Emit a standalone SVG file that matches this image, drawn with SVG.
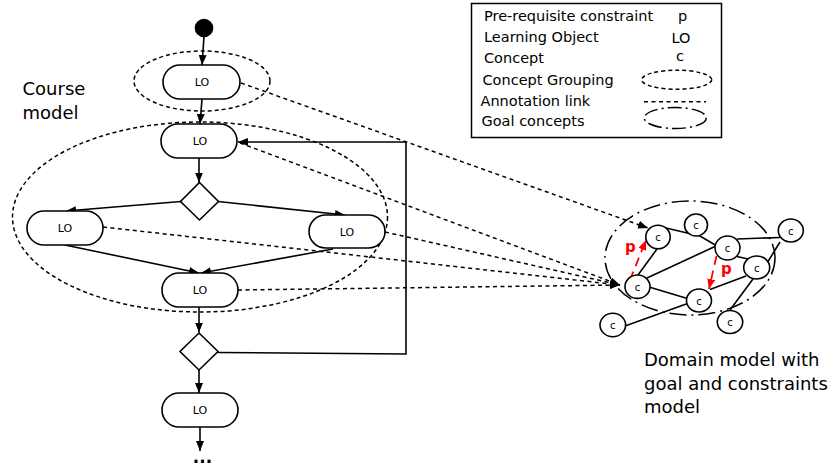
<svg xmlns="http://www.w3.org/2000/svg" width="834" height="467" viewBox="0 0 834 467">
<style>
text{font-family:"DejaVu Sans","Liberation Sans",sans-serif;fill:#000}
.lo{fill:#fff;stroke:#000;stroke-width:1.6}
.lot{font-size:11px;text-anchor:middle}
.dia{fill:#fff;stroke:#000;stroke-width:1.6}
.flow{fill:none;stroke:#000;stroke-width:1.6;marker-end:url(#ah)}
.grp{fill:none;stroke:#000;stroke-width:1.5;stroke-dasharray:4,3}
.ann{fill:none;stroke:#000;stroke-width:1.5;stroke-dasharray:4,3.5}
.goal{fill:none;stroke:#000;stroke-width:1.5;stroke-dasharray:17,5,2,5}
.cn{fill:#fff;stroke:#000;stroke-width:1.6}
.ct{font-size:10px;text-anchor:middle}
.edge{fill:none;stroke:#000;stroke-width:1.6}
.pre{fill:none;stroke:#f00;stroke-width:1.8;stroke-dasharray:9,6;marker-end:url(#rah)}
.pt{font-size:15px;font-weight:bold;fill:#f00}
.leg{font-size:14.5px}
.big{font-size:18px}
</style>
<defs>
<marker id="ah" viewBox="0 0 10 8" refX="10" refY="4" markerWidth="10" markerHeight="8" markerUnits="userSpaceOnUse" orient="auto"><path d="M0,0 L10,4 L0,8 z" fill="#000"/></marker>
<marker id="rah" viewBox="0 0 10 8" refX="10" refY="4" markerWidth="10" markerHeight="8" markerUnits="userSpaceOnUse" orient="auto"><path d="M0,0 L10,4 L0,8 z" fill="#f00"/></marker>
</defs>

<!-- groupings -->
<g id="groupings">
<ellipse class="grp" cx="202" cy="81" rx="68" ry="30"/>
<ellipse class="grp" cx="200" cy="217" rx="187.5" ry="95"/>
<ellipse class="goal" cx="690" cy="258" rx="85" ry="57"/>
</g>

<!-- connectors -->
<g id="connectors">
<path class="flow" d="M204,37 L202,65"/>
<path class="flow" d="M202,99 L200,124"/>
<path class="flow" d="M199,158 L199,182.5"/>
<path class="flow" d="M181,201.5 L66,211"/>
<path class="flow" d="M218,201.5 L345,215"/>
<path class="flow" d="M65,245 L199,273"/>
<path class="flow" d="M333,249 L201,273"/>
<path class="flow" d="M199,307 L199,332.5"/>
<path class="flow" d="M199,370 L199,393"/>
<path class="flow" d="M200,427 L200,451"/>
<path class="flow" d="M218,352.5 L406,354 L406,142 L238,142"/>
<path class="ann" d="M241,83 L648,228" marker-end="url(#ah)"/>
<path class="ann" d="M240,143 L620,285" marker-end="url(#ah)"/>
<path class="ann" d="M103,227 L620,285" marker-end="url(#ah)"/>
<path class="ann" d="M385,232 L620,285" marker-end="url(#ah)"/>
<path class="ann" d="M238,290 L620,285" marker-end="url(#ah)"/>
<!-- concept edges -->
<path class="edge" d="M666,228 L700,236 L717,246"/>
<path class="edge" d="M657,249 L638,275"/>
<path class="edge" d="M647,278 L716,246"/>
<path class="edge" d="M649,287 L689,299"/>
<path class="edge" d="M625,326 L689,303"/>
<path class="edge" d="M737,239 L780,237.5"/>
<path class="edge" d="M737,256.5 L748,259"/>
<path class="edge" d="M768,261.5 L780,242"/>
<path class="edge" d="M746,276 L710,289.5"/>
<path class="edge" d="M753,279 L730,310"/>
<path class="pre" d="M630,280 L646,240"/>
<path class="pre" d="M716.5,256 L709,289"/>
</g>

<g id="start"><circle cx="204" cy="28" r="9.3" fill="#000"/></g>
<g id="lo1"><rect class="lo" x="163" y="65" width="77" height="34" rx="17"/><text class="lot" x="202" y="86">LO</text></g>
<g id="lo2"><rect class="lo" x="161" y="124" width="76" height="34" rx="17"/><text class="lot" x="200" y="145">LO</text></g>
<g id="dec1"><path class="dia" d="M199.5,182.5 L218.5,201.5 L199.5,220 L180.5,201.5 z"/></g>
<g id="lo-left"><rect class="lo" x="27" y="211" width="76" height="34" rx="17"/><text class="lot" x="65" y="231.5">LO</text></g>
<g id="lo-right"><rect class="lo" x="309" y="215" width="76" height="33" rx="16.5"/><text class="lot" x="347" y="235.5">LO</text></g>
<g id="lo3"><rect class="lo" x="162" y="273" width="76" height="34" rx="17"/><text class="lot" x="200" y="294">LO</text></g>
<g id="dec2"><path class="dia" d="M199,333 L218,351.5 L199,370 L180,351.5 z"/></g>
<g id="lo4"><rect class="lo" x="162" y="393" width="76" height="34" rx="17"/><text class="lot" x="200" y="414">LO</text></g>
<g id="more"><text x="202.5" y="463" font-size="17" font-weight="bold" text-anchor="middle">...</text></g>

<g id="course-label"><text class="big" x="22.5" y="95">Course</text><text class="big" x="22.5" y="119">model</text></g>

<!-- concepts -->
<g id="c1"><ellipse class="cn" cx="658" cy="237" rx="12.2" ry="11.8"/><text class="ct" x="658" y="241">c</text></g>
<g id="c2"><ellipse class="cn" cx="696" cy="225" rx="11.5" ry="11"/><text class="ct" x="696" y="229">c</text></g>
<g id="c3"><ellipse class="cn" cx="727.5" cy="248" rx="12.5" ry="12"/><text class="ct" x="727.5" y="252">c</text></g>
<g id="c4"><ellipse class="cn" cx="790.8" cy="230.5" rx="12.5" ry="11.5"/><text class="ct" x="790.8" y="234.5">c</text></g>
<g id="c5"><ellipse class="cn" cx="756.7" cy="267.5" rx="13" ry="11.5"/><text class="ct" x="756.7" y="271.5">c</text></g>
<g id="c6"><ellipse class="cn" cx="637.5" cy="286.7" rx="12.5" ry="11.7"/><text class="ct" x="637.5" y="290.7">c</text></g>
<g id="c7"><ellipse class="cn" cx="699" cy="300.5" rx="12.5" ry="11.5"/><text class="ct" x="699" y="304.5">c</text></g>
<g id="c8"><ellipse class="cn" cx="730" cy="322" rx="12.7" ry="11.5"/><text class="ct" x="730" y="326">c</text></g>
<g id="c9"><ellipse class="cn" cx="612.8" cy="325" rx="12.8" ry="11.7"/><text class="ct" x="612.8" y="329">c</text></g>
<g id="p-labels"><text class="pt" x="625" y="252">p</text><text class="pt" x="721" y="274">p</text></g>

<g id="domain-label"><text class="big" x="644" y="366">Domain model with</text><text class="big" x="644" y="390">goal and constraints</text><text class="big" x="644" y="413">model</text></g>

<g id="legend">
<rect x="471.5" y="3.5" width="250" height="134" fill="#fff" stroke="#000" stroke-width="1.5"/>
<text class="leg" x="484" y="21">Pre-requisite constraint</text>
<text class="leg" x="678" y="21">p</text>
<text class="leg" x="484" y="41.5">Learning Object</text>
<text class="leg" x="671.5" y="43">LO</text>
<text class="leg" x="484" y="63">Concept</text>
<text class="leg" x="676" y="61">c</text>
<text class="leg" x="482.5" y="84.5">Concept Grouping</text>
<ellipse class="grp" cx="676.7" cy="79.7" rx="35" ry="9.5"/>
<text class="leg" x="480.5" y="106">Annotation link</text>
<path class="ann" d="M644,101.7 L706,101.7"/>
<text class="leg" x="481.5" y="126">Goal concepts</text>
<ellipse class="goal" cx="675.3" cy="118" rx="31" ry="10.5" style="stroke-dasharray:14,4,2,4"/>
</g>
</svg>
